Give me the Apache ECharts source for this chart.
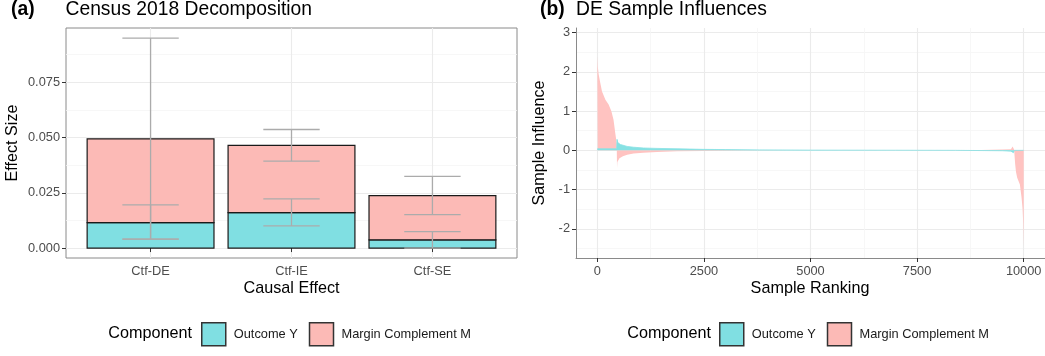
<!DOCTYPE html>
<html><head><meta charset="utf-8">
<script src="https://cdn.jsdelivr.net/npm/echarts@6/dist/echarts.min.js"></script>
<style>html,body{margin:0;padding:0;background:#fff}#c{width:1045px;height:356px}</style>
</head><body><div id="c"></div>
<script>
// ---------- Panel (a) data ----------
const categories = ['Ctf-DE', 'Ctf-IE', 'Ctf-SE'];
const outcomeY = [0.0115, 0.0160, 0.0037];
const marginM = [0.0379, 0.0304, 0.0200];
const errYLow = [0.0040, 0.0100, 0.0000];
const errYHigh = [0.0195, 0.0222, 0.0074];
const errTotLow = [0.0040, 0.0393, 0.0151];
const errTotHigh = [0.0949, 0.0536, 0.0324];
const leftYTicks = [0, 0.025, 0.05, 0.075];
const leftYMinor = [0.0125, 0.0375, 0.0625, 0.0875];

// ---------- Panel (b) data ----------
const rankM = [0, 10, 30, 70, 110, 190, 265, 330, 380, 420, 455, 462, 470, 520, 600, 700, 850, 1080, 1400, 1870, 2500, 3500, 4500, 8400, 9000, 9500, 9700, 9740, 9760, 9775, 9780, 9800, 9820, 9848, 9911, 9950, 9975, 9990, 9997, 10000];
const valM  = [2.4, 2.15, 1.95, 1.72, 1.5, 1.29, 1.17, 1.0, 0.78, 0.45, 0.18, -0.45, -0.3, -0.2, -0.15, -0.11, -0.08, -0.06, -0.04, -0.025, -0.015, -0.005, 0, 0.005, 0.01, 0.02, 0.03, 0.1, 0.05, 0.02, -0.05, -0.35, -0.55, -0.7, -0.87, -1.2, -1.5, -1.9, -2.3, -2.45];
const rankY = [0, 455, 462, 480, 540, 700, 850, 1085, 1400, 1870, 2480, 3000, 3800, 5000, 7000, 8400, 9000, 9500, 9700, 9760, 9780, 10000];
const valY  = [0.04, 0.04, 0.28, 0.2, 0.15, 0.1, 0.08, 0.06, 0.05, 0.04, 0.025, 0.02, 0.012, 0.006, 0.003, 0.0, -0.005, -0.01, -0.02, -0.06, 0.0, 0.0];
const rightYTicks = [-2, -1, 0, 1, 2, 3];
const rightYMinor = [-2.5, -1.5, -0.5, 0.5, 1.5, 2.5];
const rightXTicks = [0, 2500, 5000, 7500, 10000];
const rightXMinor = [1250, 3750, 6250, 8750];

const FONT = 'Liberation Sans, Arial, Helvetica, sans-serif';
const PINK = '#FCBAB6', TEAL = '#80DFE2';
const PINK_B = '#FFC3C1', TEAL_B = '#86E1E3';
const AXIS_COL = '#8a8a8a', LABEL_COL = '#4d4d4d';
const TICK_FS = 12.8, AXT_FS = 16.2, TITLE_FS = 19.3;

const chart = echarts.init(document.getElementById('c'), null, {renderer: 'canvas'});

function barRender(color) {
  return function (params, api) {
    const x = api.value(0), y0 = api.value(1), y1 = api.value(2);
    const p0 = api.coord([x - 0.45, y1]);
    const p1 = api.coord([x + 0.45, y0]);
    return {type: 'rect', shape: {x: p0[0], y: p0[1], width: p1[0] - p0[0], height: p1[1] - p0[1]},
      style: {fill: color, stroke: '#1a1a1a', lineWidth: 1.2}};
  };
}
function errRender(params, api) {
  const x = api.value(0), lo = api.value(1), hi = api.value(2);
  const a = api.coord([x, lo]), b = api.coord([x, hi]);
  const l = api.coord([x - 0.2, lo])[0], r = api.coord([x + 0.2, lo])[0];
  const st = {stroke: '#ababab', lineWidth: 1.3};
  return {type: 'group', children: [
    {type: 'line', shape: {x1: a[0], y1: a[1], x2: b[0], y2: b[1]}, style: st},
    {type: 'line', shape: {x1: l, y1: a[1], x2: r, y2: a[1]}, style: st},
    {type: 'line', shape: {x1: l, y1: b[1], x2: r, y2: b[1]}, style: st}
  ]};
}

const yData = categories.map((c, i) => [i + 1, 0, outcomeY[i]]);
const mData = categories.map((c, i) => [i + 1, outcomeY[i], outcomeY[i] + marginM[i]]);
const errData = categories.map((c, i) => [i + 1, errYLow[i], errYHigh[i]])
  .concat(categories.map((c, i) => [i + 1, errTotLow[i], errTotHigh[i]]));

const gridLine = {show: true, lineStyle: {color: '#ebebeb', width: 1.1}};
const minorLine = {show: true, lineStyle: {color: '#f5f5f5', width: 0.8}};
const hidden = {axisLine: {show: false}, axisTick: {show: false}};

const legendCommon = {
  orient: 'horizontal', top: 322, itemWidth: 24, itemHeight: 23, itemGap: 11, padding: 0,
  icon: 'rect', selectedMode: false,
  textStyle: {fontFamily: FONT, fontSize: TICK_FS, color: '#1a1a1a', padding: [0, 0, 0, 3]}
};

chart.setOption({
  animation: false,
  backgroundColor: '#fff',
  textStyle: {fontFamily: FONT},
  grid: [
    {left: 66, top: 28, width: 451, height: 230, show: true, borderColor: AXIS_COL, borderWidth: 1, backgroundColor: '#fff', containLabel: false},
    {left: 576, top: 28, width: 469, height: 230, show: false, containLabel: false}
  ],
  xAxis: [
    {type: 'value', gridIndex: 0, min: 0.4, max: 3.6,
      axisLine: {show: false},
      axisTick: {show: true, length: 4, lineStyle: {color: '#333'}, customValues: [1, 2, 3]},
      axisLabel: {customValues: [1, 2, 3], formatter: v => categories[Math.round(v) - 1], color: LABEL_COL, fontSize: TICK_FS, margin: 7, fontFamily: FONT},
      splitLine: gridLine},
    {type: 'value', gridIndex: 1, min: -500, max: 10500,
      axisLine: {show: true, onZero: false, lineStyle: {color: AXIS_COL, width: 1}},
      axisTick: {show: true, length: 4, lineStyle: {color: '#333'}, customValues: rightXTicks},
      axisLabel: {customValues: rightXTicks, formatter: v => String(v), color: LABEL_COL, fontSize: TICK_FS, margin: 7, fontFamily: FONT},
      splitLine: gridLine},
    {type: 'value', gridIndex: 1, min: -500, max: 10500, ...hidden,
      axisTick: {show: false, customValues: rightXMinor},
      axisLabel: {show: false, customValues: rightXMinor},
      splitLine: minorLine}
  ],
  yAxis: [
    {type: 'value', gridIndex: 0, min: -0.0045, max: 0.0995,
      axisLine: {show: false},
      axisTick: {show: true, length: 4, lineStyle: {color: '#333'}, customValues: leftYTicks},
      axisLabel: {customValues: leftYTicks, formatter: v => v.toFixed(3), color: LABEL_COL, fontSize: TICK_FS, margin: 6, fontFamily: FONT},
      splitLine: gridLine},
    {type: 'value', gridIndex: 0, min: -0.0045, max: 0.0995, ...hidden,
      axisTick: {show: false, customValues: leftYMinor},
      axisLabel: {show: false, customValues: leftYMinor},
      splitLine: minorLine},
    {type: 'value', gridIndex: 1, min: -2.745, max: 3.12,
      axisLine: {show: true, onZero: false, lineStyle: {color: AXIS_COL, width: 1}},
      axisTick: {show: true, length: 4, lineStyle: {color: '#333'}, customValues: rightYTicks},
      axisLabel: {customValues: rightYTicks, formatter: v => String(v), color: LABEL_COL, fontSize: TICK_FS, margin: 6, fontFamily: FONT},
      splitLine: gridLine},
    {type: 'value', gridIndex: 1, min: -2.745, max: 3.12, ...hidden,
      axisTick: {show: false, customValues: rightYMinor},
      axisLabel: {show: false, customValues: rightYMinor},
      splitLine: minorLine}
  ],
  legend: [
    Object.assign({}, legendCommon, {left: 201, data: [
      {name: 'Outcome Y', itemStyle: {color: TEAL, borderColor: '#333', borderWidth: 1.5}},
      {name: 'Margin Complement M', itemStyle: {color: PINK, borderColor: '#333', borderWidth: 1.5}}]}),
    Object.assign({}, legendCommon, {left: 719, data: [
      {name: 'Outcome Y', itemStyle: {color: TEAL, borderColor: '#333', borderWidth: 1.5}},
      {name: 'Margin Complement M', itemStyle: {color: PINK, borderColor: '#333', borderWidth: 1.5}}]})
  ],
  graphic: [
    {type: 'text', x: 11, y: 9.5, style: {text: '(a)', font: 'bold ' + TITLE_FS + 'px ' + FONT, fill: '#000', verticalAlign: 'middle'}},
    {type: 'text', x: 65.5, y: 9.5, style: {text: 'Census 2018 Decomposition', font: TITLE_FS + 'px ' + FONT, fill: '#000', verticalAlign: 'middle'}},
    {type: 'text', x: 540, y: 9.5, style: {text: '(b)', font: 'bold ' + TITLE_FS + 'px ' + FONT, fill: '#000', verticalAlign: 'middle'}},
    {type: 'text', x: 576, y: 9.5, style: {text: 'DE Sample Influences', font: TITLE_FS + 'px ' + FONT, fill: '#000', verticalAlign: 'middle'}},
    {type: 'text', x: 13, y: 143, rotation: Math.PI / 2, style: {text: 'Effect Size', font: AXT_FS + 'px ' + FONT, fill: '#000', align: 'center', verticalAlign: 'middle'}},
    {type: 'text', x: 291.5, y: 289, style: {text: 'Causal Effect', font: AXT_FS + 'px ' + FONT, fill: '#000', align: 'center', verticalAlign: 'middle'}},
    {type: 'text', x: 540, y: 143, rotation: Math.PI / 2, style: {text: 'Sample Influence', font: AXT_FS + 'px ' + FONT, fill: '#000', align: 'center', verticalAlign: 'middle'}},
    {type: 'text', x: 810, y: 289, style: {text: 'Sample Ranking', font: AXT_FS + 'px ' + FONT, fill: '#000', align: 'center', verticalAlign: 'middle'}},
    {type: 'text', x: 192, y: 334, style: {text: 'Component', font: AXT_FS + 'px ' + FONT, fill: '#000', align: 'right', verticalAlign: 'middle'}},
    {type: 'text', x: 711, y: 334, style: {text: 'Component', font: AXT_FS + 'px ' + FONT, fill: '#000', align: 'right', verticalAlign: 'middle'}}
  ],
  series: [
    {name: 'Outcome Y', type: 'custom', xAxisIndex: 0, yAxisIndex: 0, renderItem: barRender(TEAL),
      encode: {x: 0, y: [1, 2]}, data: yData, itemStyle: {color: TEAL}, z: 2},
    {name: 'Margin Complement M', type: 'custom', xAxisIndex: 0, yAxisIndex: 0, renderItem: barRender(PINK),
      encode: {x: 0, y: [1, 2]}, data: mData, itemStyle: {color: PINK}, z: 2},
    {name: 'errorbars', type: 'custom', xAxisIndex: 0, yAxisIndex: 0, renderItem: errRender,
      encode: {x: 0, y: [1, 2]}, data: errData, z: 3, silent: true},
    {name: 'Margin Complement M', type: 'line', xAxisIndex: 1, yAxisIndex: 2,
      data: rankM.map((r, i) => [r, valM[i]]), showSymbol: false, symbol: 'none',
      lineStyle: {width: 0}, areaStyle: {color: PINK_B, opacity: 1, origin: 0}, itemStyle: {color: PINK}, z: 2},
    {name: 'Outcome Y', type: 'line', xAxisIndex: 1, yAxisIndex: 2,
      data: rankY.map((r, i) => [r, valY[i]]), showSymbol: false, symbol: 'none',
      lineStyle: {width: 0.8, color: TEAL_B}, areaStyle: {color: TEAL_B, opacity: 1, origin: 0}, itemStyle: {color: TEAL}, z: 3}
  ]
});
</script>
</body></html>
